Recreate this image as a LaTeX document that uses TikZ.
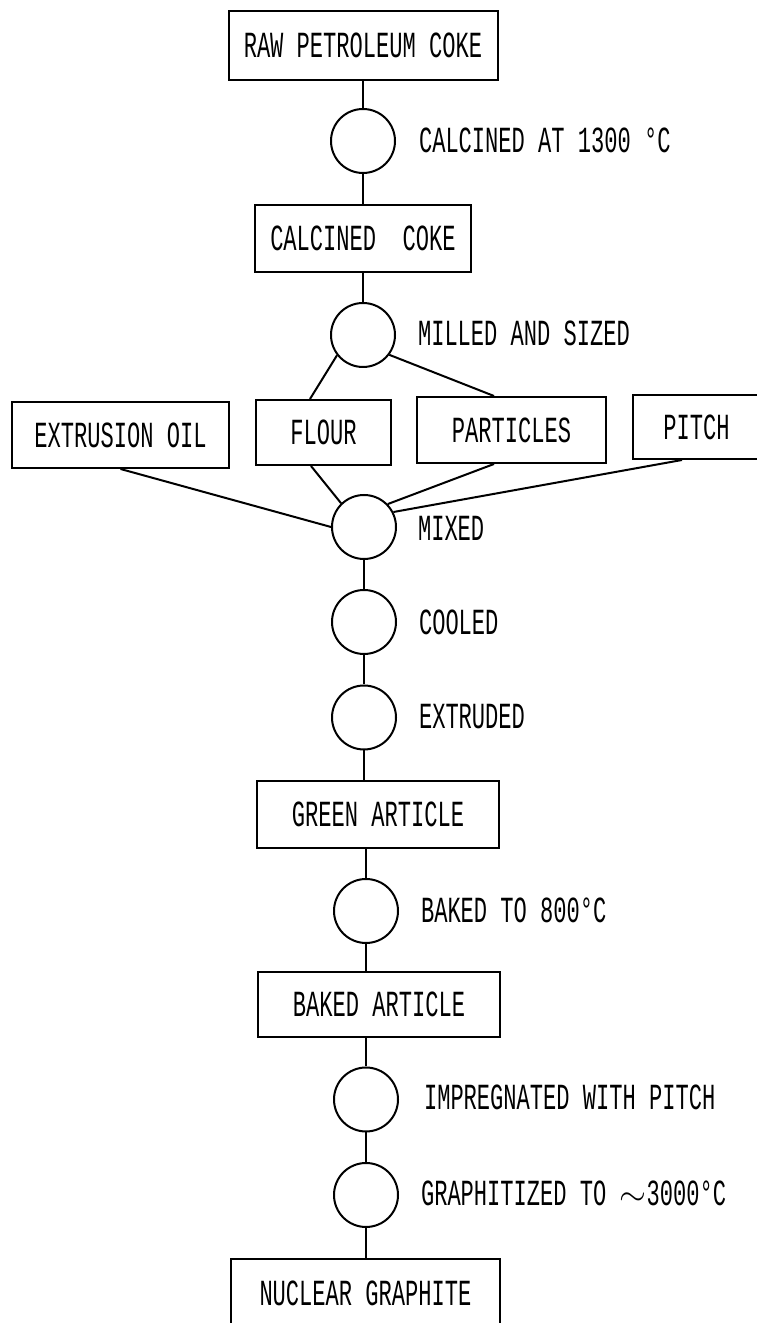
\documentclass[tikz,border=0pt]{standalone}
\usepackage{fontspec}
\newfontfamily\flowfont[FakeStretch=0.6]{Liberation Mono}
\begin{document}
\begin{tikzpicture}[x=0.5pt,y=0.5pt,line width=1pt,
        font={\flowfont\fontsize{18.4pt}{20pt}\selectfont},
        box/.style={draw,rectangle,inner sep=0pt,minimum height=33.5pt},
        proc/.style={draw,circle,inner sep=0pt,minimum size=32pt},
        lbl/.style={anchor=west,inner sep=0pt}]
    \useasboundingbox (0,0) rectangle (756,1323);

    % products
    \node[box,minimum width=134.5pt,minimum height=34.5pt] (raw) at (363,1277.5) {RAW PETROLEUM COKE};
    \node[box,minimum width=108pt] (cc) at (363,1084.5) {CALCINED\ \ COKE};
    \node[box,minimum width=108.5pt,minimum height=33pt] (eo) at (120.5,888) {EXTRUSION OIL};
    \node[box,minimum width=67.5pt,minimum height=32.5pt] (flour) at (323.5,890.5) {FLOUR};
    \node[box,minimum width=94.5pt,minimum height=33pt] (part) at (511.5,893) {PARTICLES};
    \node[box,minimum width=63.5pt,minimum height=32pt] (pitch) at (696.5,896) {PITCH};
    \node[box,minimum width=121pt] (green) at (378,508.5) {GREEN ARTICLE};
    \node[box,minimum width=121pt,minimum height=32.5pt] (art) at (379,318.5) {BAKED ARTICLE};
    \node[box,minimum width=134.5pt,minimum height=34pt] (nuc) at (365.5,30) {NUCLEAR GRAPHITE};

    % process steps
    \node[proc] (c1) at (363,1182) {};
    \node[proc] (c2) at (363,988) {};
    \node[proc] (mix) at (364,796) {};
    \node[proc] (cool) at (364,701) {};
    \node[proc] (extr) at (364,605.5) {};
    \node[proc] (bake) at (366,412) {};
    \node[proc] (imp) at (366,223.5) {};
    \node[proc] (graph) at (366,128) {};

    \node[lbl] (l1) at (418,1183) {CALCINED AT 1300 °C};
    \node[lbl] (l2) at (417,990) {MILLED AND SIZED};
    \node[lbl] (l3) at (417,795) {MIXED};
    \node[lbl] (l4) at (418,701) {COOLED};
    \node[lbl] (l5) at (418,606) {EXTRUDED};
    \node[lbl] (l6) at (420,413) {BAKED TO 800°C};
    \node[lbl] (l7) at (423,226) {IMPREGNATED WITH PITCH};
    \node[lbl] (l8) at (420,130) {GRAPHITIZED TO $\sim$3000°C};

    % connections
    \draw (raw) -- (c1);
    \draw (c1) -- (cc);
    \draw (cc) -- (c2);
    \draw (c2.218) -- ([xshift=-6.75pt]flour.north);
    \draw (c2.-37) -- ([xshift=-8.75pt]part.north);
    \draw (eo.south) -- (mix.west);
    \draw ([xshift=-6.25pt]flour.south) -- (mix.134);
    \draw ([xshift=-8.75pt]part.south) -- (mix.44);
    \draw ([xshift=-7.25pt]pitch.south) -- (mix.27);
    \draw (mix) -- (cool);
    \draw (cool) -- (extr);
    \draw (extr.south) -- (extr.south |- green.north);
    \draw (bake.north |- green.south) -- (bake.north);
    \draw (bake.south) -- (bake.south |- art.north);
    \draw (imp.north |- art.south) -- (imp.north);
    \draw (imp) -- (graph);
    \draw (graph.south) -- (graph.south |- nuc.north);
\end{tikzpicture}
\end{document}
